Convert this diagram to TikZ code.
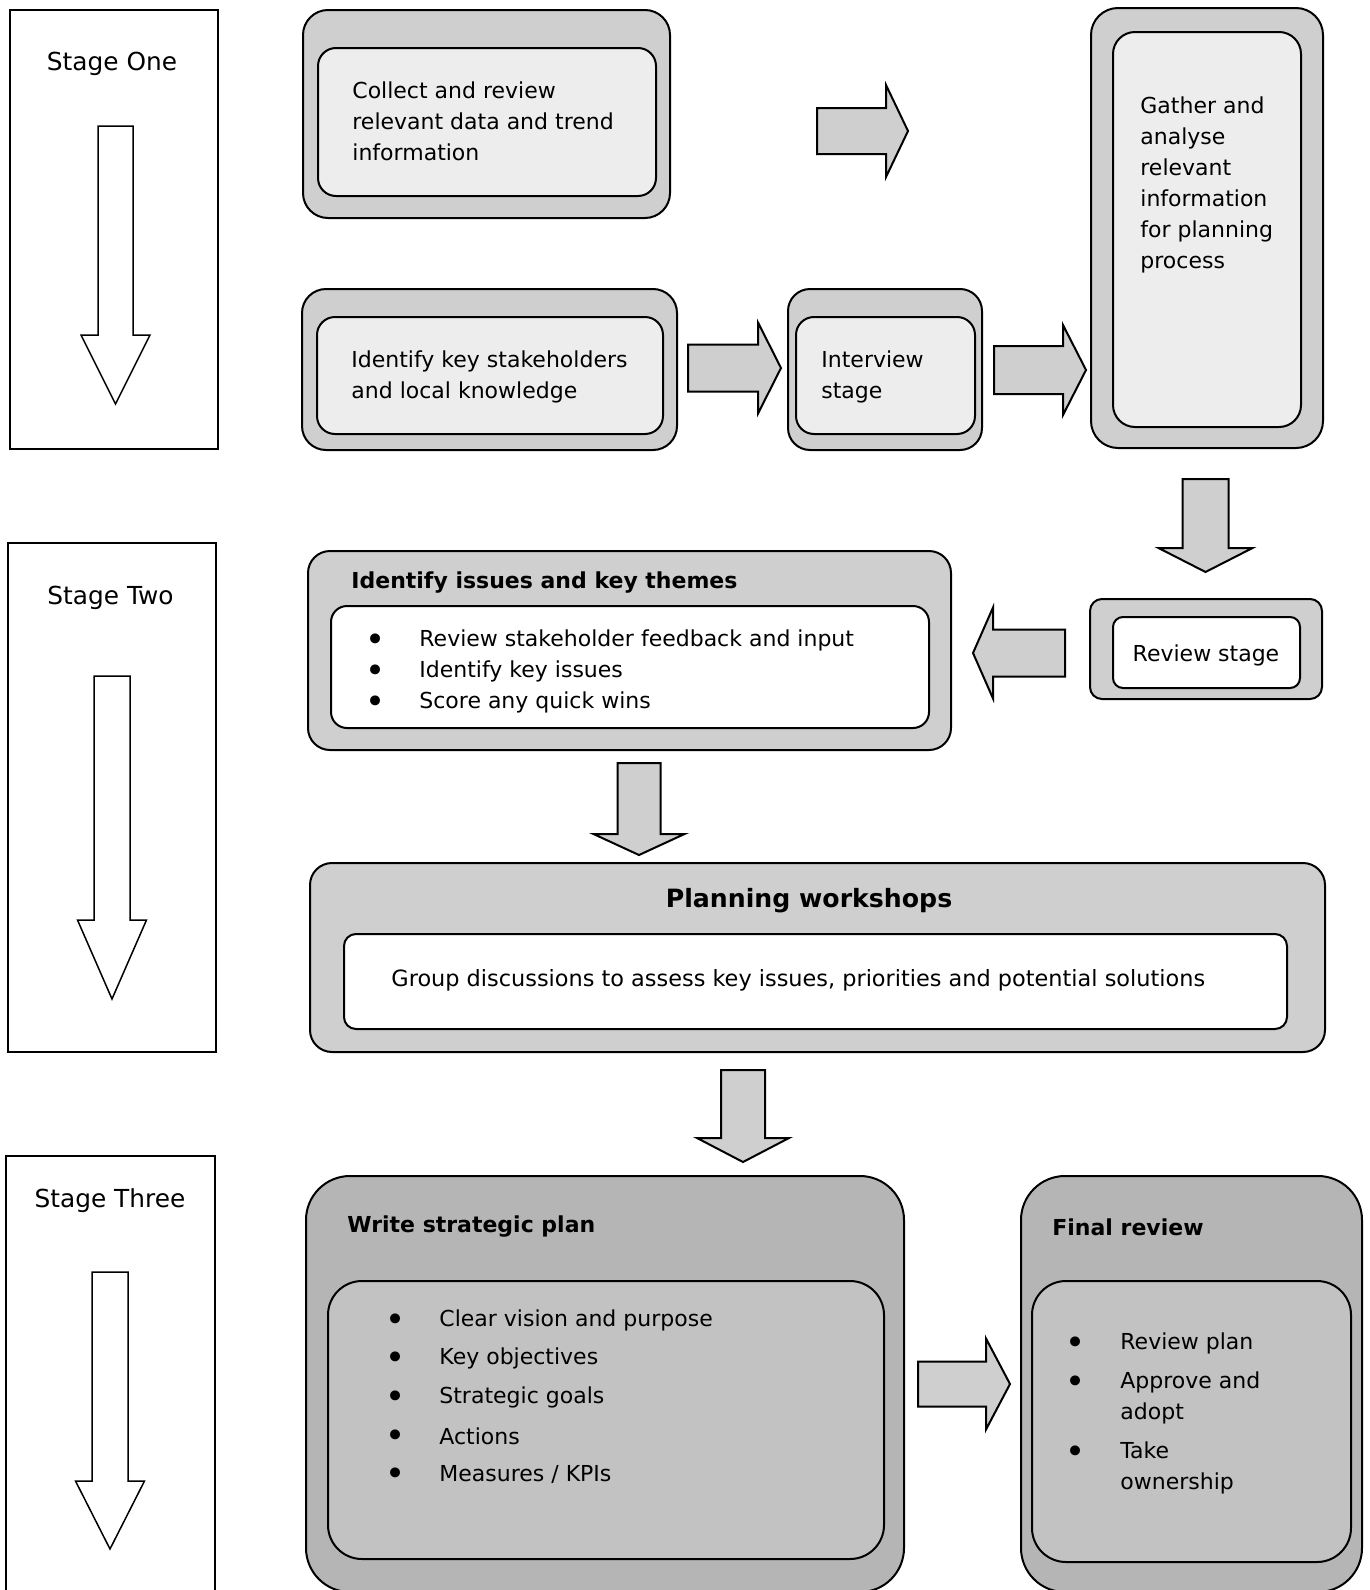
\documentclass[tikz,border=0pt]{standalone}
\usepackage{fontspec}
\setmainfont{DejaVu Sans}
\definecolor{outerlight}{gray}{0.81}
\definecolor{innerlight}{gray}{0.93}
\definecolor{arrowgray}{gray}{0.81}
\definecolor{outerdark}{gray}{0.71}
\definecolor{innerdark}{gray}{0.76}
\newcommand{\bodyfs}{\fontsize{11}{15.5}\selectfont}
\newcommand{\bul}{{\fontsize{17}{15.5}\selectfont •}}
\newcommand{\myRarrow}[7]{% style, x0, x1, x2, yc, half shaft, half head
  \draw[#1] (#2,{#5-#6}) -- (#3,{#5-#6}) -- (#3,{#5-#7}) -- (#4,#5) -- (#3,{#5+#7}) -- (#3,{#5+#6}) -- (#2,{#5+#6}) -- cycle;}
\newcommand{\myDarrow}[7]{% style, xc, y0, y1, y2, half shaft, half head
  \draw[#1] ({#2-#6},#3) -- ({#2+#6},#3) -- ({#2+#6},#4) -- ({#2+#7},#4) -- (#2,#5) -- ({#2-#7},#4) -- ({#2-#6},#4) -- cycle;}
\begin{document}
\begin{tikzpicture}[x=0.5pt,y=-0.5pt,
  stagebox/.style={draw=black, line width=0.75pt, fill=white},
  hollow/.style={draw=black, line width=0.75pt, fill=white},
  blk/.style={draw=black, line width=1pt, fill=arrowgray},
  outerA/.style={draw=black, line width=1pt, fill=outerlight},
  innerA/.style={draw=black, line width=1pt, fill=innerlight},
  innerW/.style={draw=black, line width=1pt, fill=white},
  outerD/.style={draw=black, line width=1pt, fill=outerdark},
  innerD/.style={draw=black, line width=1pt, fill=innerdark},
  txt/.style={inner sep=0pt, font=\bodyfs, align=left, anchor=west},
  bultxt/.style={inner sep=0pt, anchor=center, yshift=-1.5pt},
  ttl/.style={inner sep=0pt, font=\bodyfs\bfseries, anchor=west},
  stagetxt/.style={inner sep=0pt, font=\fontsize{12.4}{15}\selectfont, anchor=center},
]
\useasboundingbox (0,0) rectangle (1370,1590);
\clip (0,0) rectangle (1370,1590);

% ---------- stage columns ----------
\path[stagebox] (10,10) rectangle (218,449);
\node[stagetxt] (s1) at (112,64) {Stage One};
\myDarrow{hollow}{115.5}{126}{335}{404}{17.5}{34.5}
\path[stagebox] (8,543) rectangle (216,1052);
\node[stagetxt] (s2) at (110.5,598) {Stage Two};
\myDarrow{hollow}{112}{676}{920}{999}{18}{34.5}
\path[stagebox] (6,1156) rectangle (215,1640);
\node[stagetxt] (s3) at (110,1201) {Stage Three};
\myDarrow{hollow}{110}{1272}{1481}{1549}{18}{34.5}

% ---------- stage one boxes ----------
\path[outerA, rounded corners=12.5pt] (303,10) rectangle (670,218);
\path[innerA, rounded corners=9pt] (318,48) rectangle (656,196);
\node[txt] (collect) at (352,121) {Collect and review\\relevant data and trend\\information};

\path[outerA, rounded corners=13.5pt] (1091,8) rectangle (1323,448);
\path[innerA, rounded corners=11pt] (1113,32) rectangle (1301,427);
\node[txt] (gather) at (1140,185) {Gather and\\analyse\\relevant\\information\\for planning\\process};

\path[outerA, rounded corners=12pt] (302,289) rectangle (677,450);
\path[innerA, rounded corners=9pt] (317,317) rectangle (663,434);
\node[txt] (stake) at (351,377) {Identify key stakeholders\\and local knowledge};

\path[outerA, rounded corners=11pt] (788,289) rectangle (982,450);
\path[innerA, rounded corners=9pt] (796,317) rectangle (975,434);
\node[txt] (interview) at (821,377) {Interview\\stage};

\myRarrow{blk}{817}{886}{908}{131}{23}{46}
\myRarrow{blk}{688}{758}{781}{368}{23.5}{45.5}
\myRarrow{blk}{994}{1063}{1086}{370}{24}{45}

% ---------- stage two ----------
\myDarrow{blk}{1205.5}{479}{548}{572}{23}{47}
\path[outerA, rounded corners=6pt] (1090,599) rectangle (1322,699);
\path[innerW, rounded corners=5pt] (1113,617) rectangle (1300,688);
\node[txt, anchor=center] (review) at (1206,655) {Review stage};
\myRarrow{blk}{1065}{993}{973}{653}{23.5}{45.5}

\path[outerA, rounded corners=11pt] (308,551) rectangle (951,750);
\path[innerW, rounded corners=8pt] (331,606) rectangle (929,728);
\node[ttl] (issues) at (351,583) {Identify issues and key themes};
\node[bultxt] (ib1) at (376,640) {\bul};
\node[txt] (it1) at (419,640) {Review stakeholder feedback and input};
\node[bultxt] (ib2) at (376,671) {\bul};
\node[txt] (it2) at (419,671) {Identify key issues};
\node[bultxt] (ib3) at (376,702) {\bul};
\node[txt] (it3) at (419,702) {Score any quick wins};

\myDarrow{blk}{639}{763}{834}{855}{21.5}{45.5}

\path[outerA, rounded corners=11pt] (310,863) rectangle (1325,1052);
\path[innerW, rounded corners=6pt] (344,934) rectangle (1287,1029);
\node[inner sep=0pt, font=\fontsize{12.6}{15}\selectfont\bfseries, anchor=center] (plan) at (809,901) {Planning workshops};
\node[txt, font=\fontsize{11.2}{15.5}\selectfont] (group) at (391,980) {Group discussions to assess key issues, priorities and potential solutions};

\myDarrow{blk}{743}{1070}{1138}{1162}{22}{46}

% ---------- stage three ----------
\path[outerD, rounded corners=22pt] (306,1176) rectangle (904,1592);
\path[innerD, rounded corners=17pt] (328,1281) rectangle (884,1559);
\node[ttl] (write) at (347,1227) {Write strategic plan};
\node[bultxt] (wb1) at (396,1320) {\bul};
\node[txt] (wt1) at (439,1320) {Clear vision and purpose};
\node[bultxt] (wb2) at (396,1358) {\bul};
\node[txt] (wt2) at (439,1358) {Key objectives};
\node[bultxt] (wb3) at (396,1397) {\bul};
\node[txt] (wt3) at (439,1397) {Strategic goals};
\node[bultxt] (wb4) at (396,1436) {\bul};
\node[txt] (wt4) at (439,1436) {Actions};
\node[bultxt] (wb5) at (396,1474) {\bul};
\node[txt] (wt5) at (439,1474) {Measures / KPIs};

\myRarrow{blk}{918}{986}{1010}{1384}{22.5}{45.5}

\path[outerD, rounded corners=22pt] (1021,1176) rectangle (1362,1592);
\path[innerD, rounded corners=17pt] (1032,1281) rectangle (1351,1562);
\node[ttl] (final) at (1052,1227) {Final review};
\node[bultxt] (fb1) at (1076,1343) {\bul};
\node[txt] (ft1) at (1120,1343) {Review plan};
\node[bultxt] (fb2) at (1076,1382) {\bul};
\node[txt] (ft2) at (1120,1398) {Approve and\\adopt};
\node[bultxt] (fb3) at (1076,1452) {\bul};
\node[txt] (ft3) at (1120,1468) {Take\\ownership};
\end{tikzpicture}
\end{document}
